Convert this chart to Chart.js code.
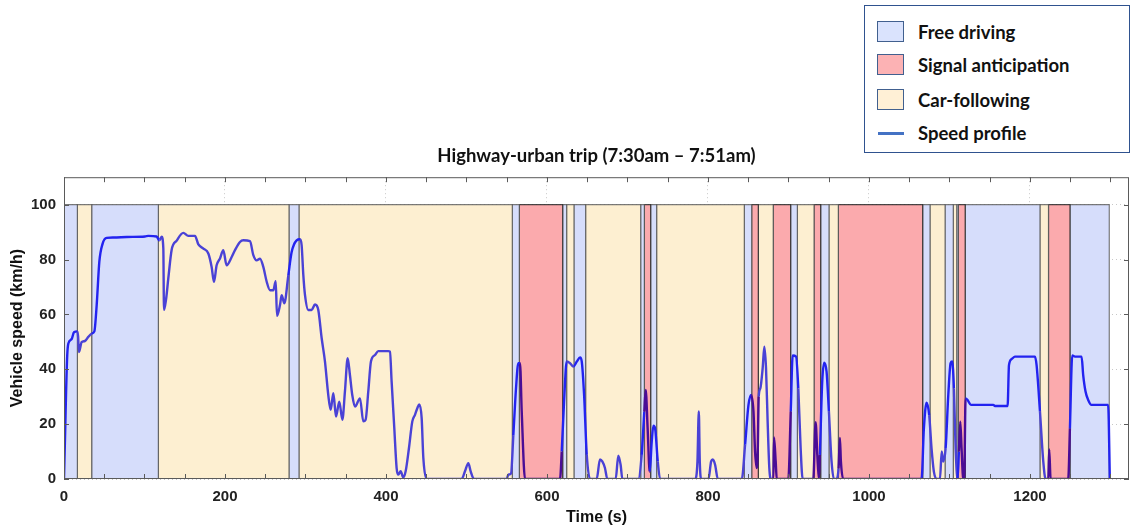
<!DOCTYPE html>
<html>
<head>
<meta charset="utf-8">
<title>Highway-urban trip</title>
<script src="https://cdn.jsdelivr.net/npm/chart.js@4.4.1/dist/chart.umd.min.js"></script>
<style>
  html, body { margin: 0; padding: 0; background: #fff; }
  #wrap { position: relative; width: 1135px; height: 529px; }
  #legend {
    position: absolute; left: 864px; top: 5px; width: 264px; height: 146px;
    border: 1.5px solid #2f528f; background: #fff;
    font: bold 18.5px Lato, "Open Sans", sans-serif; color: #111;
  }
  .swatch { position: absolute; left: 12px; width: 25px; height: 19px; border: 1.5px solid #41608f; }
  .lline { position: absolute; left: 13px; width: 26px; height: 3px; background: #4472c4; }
  .ltext { position: absolute; left: 53px; line-height: 20px; white-space: nowrap; }
</style>
</head>
<body>
<div id="wrap">
  <canvas id="speedChart" width="1135" height="529"></canvas>
  <div id="legend"></div>
</div>
<script>
// driving modes and their colours
const modeLabels = ['Free driving', 'Signal anticipation', 'Car-following'];
const modeFill = ['#d6ddfb', '#fbaaad', '#fdefd1'];
const modeLegendFill = ['#dae3fd', '#fcb2b4', '#fff0d6'];
const modeLineColor = ['#2323f0', '#4a0c96', '#4a42d6'];

// segment boundaries (s) and mode index: 0 free, 1 signal, 2 car-following
const segStart = [0, 16.6, 34.4, 117.2, 279.5, 291.9, 556.9, 565.6, 619.5, 624.4, 633.5, 648,
  716.4, 720.9, 728.8, 736.2, 845.1, 854.3, 862.5, 881, 902.7, 911, 931.7, 940, 950.3, 961.9,
  1066.7, 1075.8, 1094.5, 1104.7, 1109, 1111, 1119.5, 1212.4, 1223, 1249.7];
const segEnd = [16.6, 34.4, 117.2, 279.5, 291.9, 556.9, 565.6, 619.5, 624.4, 633.5, 648, 716.4,
  720.9, 728.8, 736.2, 845.1, 854.3, 862.5, 881, 902.7, 911, 931.7, 940, 950.3, 961.9, 1066.7,
  1075.8, 1094.5, 1104.7, 1109, 1111, 1119.5, 1212.4, 1223, 1249.7, 1298.5];
const segMode = [0, 2, 0, 2, 0, 2, 0, 1, 0, 2, 0, 2,
  0, 1, 0, 2, 0, 1, 2, 1, 0, 2, 1, 0, 2, 1,
  0, 2, 0, 2, 0, 1, 0, 2, 1, 0];

// speed profile
const timeSec = [0, 1.5, 2.5, 4, 5.4, 9.5, 12.4, 16.6, 17.5, 18.6, 21.9, 26, 30.2, 34.4, 37.7, 40.6,
  43.9, 48, 53, 61.3, 77.8, 100.6, 104.8, 115, 118.4, 121.3, 123.4, 124.2, 126.7, 129.6, 133.7,
  140, 148.2, 154.4, 162.7, 166.9, 173.1, 179.3, 183.4, 186.3, 189.6, 193.8, 197.9, 202, 208.3,
  212.4, 218.6, 222.8, 231, 235.2, 239.3, 243.5, 247.6, 251.8, 255.9, 260, 263, 264.6, 268.3,
  270.4, 273.7, 278.7, 282.8, 289, 293.2, 295.2, 297.3, 299.4, 303.5, 307.6, 311.8, 315.9,
  320.1, 324.2, 328.3, 331.3, 334.6, 337.9, 342, 345.8, 349, 352.4, 355.2, 358.1, 361.5, 367.7,
  371.8, 374.7, 378, 381.3, 386.3, 390.4, 402.8, 404.9, 407, 410.3, 413.2, 415.3, 418.2, 421.5,
  424.4, 428.5, 432.7, 436, 438.9, 441.4, 444.3, 446.4, 450.5, 494, 498.1, 502.3, 505.2, 509.3,
  549.9, 552, 555.3, 558.2, 561.5, 564.4, 566.5, 568.6, 572.7, 616.2, 618.3, 621.2, 624.5,
  628.7, 632.8, 637, 641.1, 643.2, 646.1, 649.4, 653.5, 661.7, 665.8, 668.7, 672, 675, 685.3,
  688.6, 691.5, 693.6, 713.5, 717.6, 720.9, 722.6, 725, 727.6, 730.1, 732.2, 734.3, 737.6,
  740.5, 784, 786.9, 788.6, 789.8, 791.5, 800.6, 803.9, 806, 808.9, 812.2, 842, 846.1, 850.3,
  853.6, 856.5, 858.5, 860.5, 861.8, 863, 865, 867.9, 870, 872.1, 874.1, 876.2, 878.3, 881.2,
  882, 884.1, 885.4, 899.8, 902.8, 905.2, 909.4, 912.2, 915.1, 917.6, 930.8, 933.7, 935.8,
  937.8, 939, 941.9, 944.4, 947.3, 950.2, 953.5, 956.4, 959.7, 962.2, 963.9, 965.1, 968,
  1065.3, 1068.2, 1071.5, 1074.8, 1077.7, 1080.6, 1083.9, 1088.2, 1090.3, 1092.3, 1095.2,
  1098.5, 1101.4, 1103.4, 1105.5, 1107.6, 1110, 1111.7, 1113.4, 1115, 1117.1, 1118.3, 1120,
  1122.5, 1126.6, 1154.4, 1156.5, 1172.2, 1173.9, 1177.2, 1181.3, 1206.2, 1208.2, 1212.4,
  1216.5, 1219.4, 1222.7, 1223.9, 1225.6, 1247.5, 1249.6, 1252.5, 1255.8, 1264.1, 1266.1,
  1269, 1272.3, 1276.4, 1297.1, 1299.2];
const speedKmh = [0, 18, 30.6, 45, 49.4, 51, 53.5, 53.8, 52, 46.3, 49.9, 50.3, 51.8, 53, 53.8, 63.4,
  79.2, 85.8, 87.9, 88, 88.2, 88.4, 88.6, 88.4, 87, 88.3, 84, 61.6, 65.3, 73.2, 83.5,
  86.9, 89.7, 88.6, 88.6, 85.5, 84, 82.2, 77.3, 71.9, 77.9, 80.4, 83.4, 77.9, 80.9,
  83.4, 86.4, 87, 86.7, 81.6, 79.7, 80.3, 77.3, 71.9, 68.8, 68.8, 72.1, 59.5, 63.4,
  67, 64, 74.3, 82.7, 87, 87.4, 85.2, 74.3, 67, 61.6, 61.6, 63.6, 61.6,
  51.3, 42.8, 30.6, 25.2, 31.3, 22.8, 28.2, 21.6, 31.9, 44, 37.9, 30.6, 26.4, 29.4,
  21, 21.6, 31.9, 42.8, 45.2, 46.6, 46.6, 46.4, 35.5, 18.6, 4, 1.6, 2.8, 0.6,
  2.8, 11.2, 21, 23.4, 25.8, 27.2, 22.2, 7.6, 0, 0, 2.8, 5.8, 2.8, 0,
  0, 1.6, 2, 16, 33, 42.2, 42.2, 24.6, 0, 0, 10, 28.2, 42.8,
  42.2, 41, 42.8, 44.3, 42.8, 30.6, 8.8, 0, 0, 7.1, 6.4, 4, 0, 0,
  8.5, 5.1, 0, 0, 8.8, 24.6, 32.5, 18.6, 2.7, 13.6, 19.4, 18.4, 6.4,
  0, 0, 6.4, 24.6, 6.4, 0, 0, 6.4, 7.1, 5.1, 0, 0, 12.5, 27,
  30.6, 24.6, 10, 4, 10, 30, 33, 40.3, 48.2, 40.3, 20.9, 3.9, 0, 0,
  15.1, 6.4, 0, 0, 24.6, 45, 44.6, 33, 11.2, 0, 0, 20.7, 8.8,
  0, 8.8, 35.5, 42.4, 39.1, 24.6, 6.4, 0, 0, 3.9, 15, 6.4, 0,
  0, 18.4, 27.8, 23.3, 11.2, 2.7, 0, 0, 10, 6.4, 11.2,
  30.6, 42.2, 42.8, 33, 11.2, 0, 10, 20.9, 11.2, 0, 0, 29.4,
  28.8, 27, 27, 26.6, 26.6, 41.5, 43.7, 44.6, 44.6, 41.5, 24.6,
  6.4, 0, 0, 10.8, 0, 0, 18.4, 45, 44.6, 44.6, 37.9,
  31.9, 28.8, 27, 27, 0];

const xTickLabels = [0, 200, 400, 600, 800, 1000, 1200];
const yTickLabels = [0, 20, 40, 60, 80, 100];

const tickFont = { family: 'Liberation Sans, Arial, sans-serif', size: 15, weight: 'bold' };
const axisFont = { family: 'Liberation Sans, Arial, sans-serif', size: 16, weight: 'bold' };

function modeAt(t) {
  for (let i = 0; i < segStart.length; i++) {
    if (t >= segStart[i] && t <= segEnd[i]) return segMode[i];
  }
  return 0;
}

const speedData = timeSec.map((t, i) => ({ x: t, y: speedKmh[i] }));

const bandDatasets = segStart.map((s, i) => ({
  label: modeLabels[segMode[i]],
  data: [{ x: s, y: 0 }, { x: s, y: 100 }, { x: segEnd[i], y: 100 }, { x: segEnd[i], y: 0 }],
  fill: 'origin',
  backgroundColor: modeFill[segMode[i]],
  borderColor: segMode[i] === 1 ? 'rgba(40,40,40,0.85)' : 'rgba(90,90,90,0.8)',
  borderWidth: 1.2,
  pointRadius: 0,
  tension: 0
}));

// draws the box round the plot and the inward tick marks on all four sides
const framePlugin = {
  id: 'frame',
  afterDatasetsDraw(chart) {
    const { ctx, chartArea: a, scales } = chart;
    ctx.save();
    ctx.strokeStyle = '#5a5a5a';
    ctx.lineWidth = 1;
    ctx.strokeRect(a.left + 0.5, a.top + 0.5, a.right - a.left - 1, a.bottom - a.top - 1);
    ctx.beginPath();
    scales.x.ticks.forEach(t => {
      const px = Math.round(scales.x.getPixelForValue(t.value)) + 0.5;
      ctx.moveTo(px, a.bottom); ctx.lineTo(px, a.bottom - 5);
      ctx.moveTo(px, a.top); ctx.lineTo(px, a.top + 5);
    });
    scales.y.ticks.forEach(t => {
      const py = Math.round(scales.y.getPixelForValue(t.value)) + 0.5;
      ctx.moveTo(a.left, py); ctx.lineTo(a.left + 5, py);
      ctx.moveTo(a.right, py); ctx.lineTo(a.right - 5, py);
    });
    ctx.stroke();
    ctx.restore();
  }
};

new Chart(document.getElementById('speedChart'), {
  type: 'line',
  data: {
    datasets: [{
      label: 'Speed profile',
      data: speedData,
      borderColor: modeLineColor[0],
      borderWidth: 2.4,
      pointRadius: 0,
      cubicInterpolationMode: 'monotone',
      fill: false,
      segment: {
        borderColor: c => modeLineColor[modeAt((c.p0.parsed.x + c.p1.parsed.x) / 2)]
      }
    }, ...bandDatasets]
  },
  options: {
    responsive: false,
    animation: false,
    layout: { padding: { left: 0, right: 6, top: 0, bottom: 0 } },
    plugins: {
      legend: { display: false },
      tooltip: { enabled: false },
      title: {
        display: true,
        fullSize: false,
        text: 'Highway-urban trip (7:30am \u2013 7:51am)',
        color: '#111',
        font: { family: 'Lato, "Open Sans", sans-serif', size: 18.5, weight: 'bold' },
        padding: { top: 145, bottom: 10 }
      }
    },
    scales: {
      x: {
        type: 'linear',
        min: 0,
        max: 1323,
        z: 1,
        afterFit: s => { s.height = 50; },
        border: { display: false, dash: [1, 3] },
        grid: {
          drawTicks: false,
          color: c => xTickLabels.includes(c.tick.value) ? 'rgba(0,0,0,0.22)' : 'rgba(0,0,0,0)',
          lineWidth: 1
        },
        ticks: {
          stepSize: 50,
          includeBounds: false,
          autoSkip: false,
          maxRotation: 0,
          padding: 9,
          color: '#222',
          font: tickFont,
          callback: v => xTickLabels.includes(v) ? String(v) : ''
        },
        title: { display: true, text: 'Time (s)', color: '#111', font: axisFont, padding: { top: 0, bottom: 2 } }
      },
      y: {
        min: 0,
        max: 110,
        z: 1,
        afterFit: s => { s.width = 64; },
        border: { display: false, dash: [1, 3] },
        grid: {
          drawTicks: false,
          color: c => yTickLabels.includes(c.tick.value) ? 'rgba(0,0,0,0.22)' : 'rgba(0,0,0,0)',
          lineWidth: 1
        },
        ticks: {
          stepSize: 20,
          includeBounds: false,
          padding: 8,
          color: '#222',
          font: tickFont
        },
        title: { display: true, text: 'Vehicle speed (km/h)', color: '#111', font: axisFont, padding: { top: 8, bottom: 0 } }
      }
    }
  },
  plugins: [framePlugin]
});

// legend box
const legend = document.getElementById('legend');
const rowTops = [15, 48, 83];
modeLabels.forEach((name, i) => {
  const sw = document.createElement('div');
  sw.className = 'swatch';
  sw.style.top = rowTops[i] + 'px';
  sw.style.background = modeLegendFill[i];
  legend.appendChild(sw);
  const tx = document.createElement('div');
  tx.className = 'ltext';
  tx.style.top = (rowTops[i] + 1) + 'px';
  tx.textContent = name;
  legend.appendChild(tx);
});
const ln = document.createElement('div');
ln.className = 'lline';
ln.style.top = '126px';
legend.appendChild(ln);
const lt = document.createElement('div');
lt.className = 'ltext';
lt.style.top = '117px';
lt.textContent = 'Speed profile';
legend.appendChild(lt);
</script>
</body>
</html>
